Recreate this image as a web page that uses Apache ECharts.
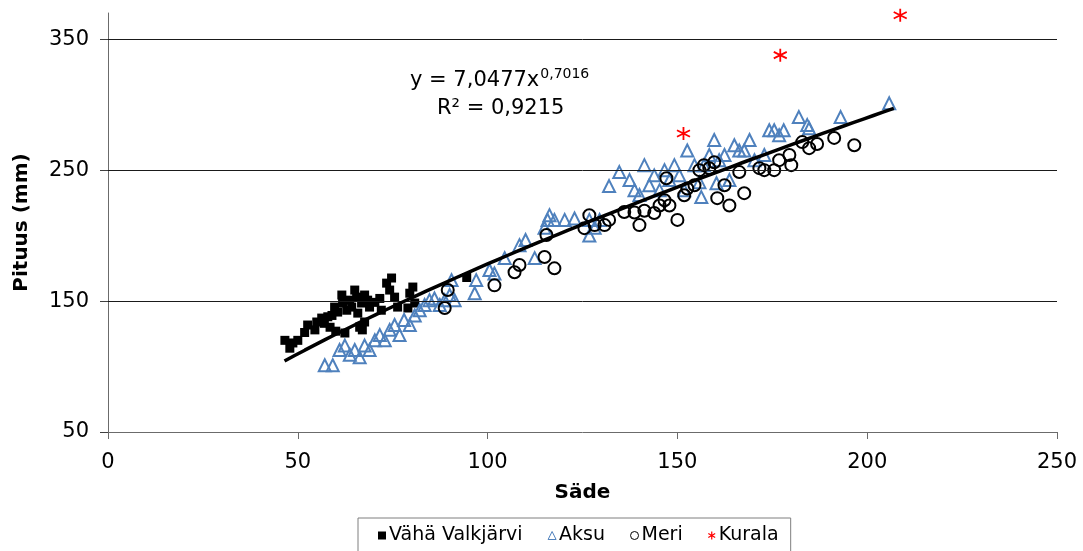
<!DOCTYPE html>
<html>
<head>
<meta charset="utf-8">
<script src="https://cdn.jsdelivr.net/npm/echarts@6/dist/echarts.min.js"></script>
<style>
  html, body { margin: 0; padding: 0; background: #fff; }
  #chart { width: 1083px; height: 551px; }
</style>
</head>
<body>
<div id="chart"></div>
<script>
// Säde / Pituus readings per site
var vahaValkjarvi = [
  [46.6, 120], [47.9, 114], [48.7, 118], [50, 120], [51.8, 126], [52.6, 131.7], [54.5, 128],
  [55, 134], [56.3, 137], [57, 133], [57.9, 138], [59, 139], [59.7, 145.4], [60.5, 141.6],
  [61.6, 154.6], [61.8, 148.5], [62.4, 125.6], [62.9, 143], [63.7, 150.7], [64.2, 145.4],
  [65, 158.4], [65.5, 153], [65.8, 140.8], [66.3, 130], [66.8, 148.5], [67, 128], [67.6, 154.6],
  [67.6, 134], [68.4, 150.7], [68.9, 145.4], [70.3, 149], [71.6, 152], [72, 143], [73.4, 163.7],
  [74.7, 167.6], [74.2, 158.4], [75.5, 153], [76.3, 145.4], [79, 144.7], [79.5, 156],
  [80.3, 160.7], [80.8, 148.5], [58.5, 130], [60, 127], [94.5, 168]
]
var aksu = [
  [57.1, 101], [59.2, 101], [61, 112.6], [62.4, 116], [63.7, 109], [65, 112.6], [66.3, 107],
  [67.6, 116], [68.9, 112.6], [70.3, 120], [71.6, 124], [72.9, 120], [74.2, 128], [75.5, 131.7],
  [76.8, 124], [78, 135.5], [79.5, 131.7], [80.8, 139], [82.1, 143], [83.4, 147], [84.7, 150.7],
  [86, 152], [87.4, 147], [88.7, 150.7], [90, 154.6], [90.5, 166], [91.3, 150.7], [96.6, 156],
  [97, 166], [100.5, 173.7], [101.8, 171], [104.5, 182.8], [108.4, 192.7], [110, 196.6],
  [112.4, 182.8], [115, 206], [116.3, 215.6], [115.8, 212], [117.6, 212], [120.3, 212],
  [122.9, 213], [126.8, 212], [126.8, 200], [128.2, 206], [129.5, 212], [132, 237.8],
  [134.7, 248.5], [137.4, 242.4], [138.7, 234.7], [140, 231], [141.3, 253.8], [142.6, 238.5],
  [143.9, 246], [145.3, 234.7], [146.6, 250], [147.9, 242.4], [149.2, 253.8], [150.5, 246],
  [151.8, 234.7], [152.6, 265], [154.5, 253.8], [155.8, 240.8], [156.3, 229.4], [157, 253.8],
  [158.4, 261.5], [159.7, 273], [160.3, 240], [161, 257.6], [162.4, 261.5], [163.7, 242.4],
  [165, 269], [166.3, 265], [167.6, 265], [169, 273], [170.3, 257.6], [172.9, 261.5],
  [174.2, 280.5], [175.5, 280.5], [176.8, 276.7], [178, 280.5], [182, 290.5], [184.2, 284.4],
  [184.7, 282], [193, 290.5], [205.8, 301]
]
var meri = [
  [88.7, 144.7], [89.5, 158.4], [101.8, 162], [107.1, 172], [108.4, 177.5], [115, 183.6],
  [117.6, 175], [115.5, 200.4], [125.5, 205.7], [126.8, 215.6], [128.2, 208], [130.8, 208],
  [132, 212], [136, 218], [138.7, 217.6], [140, 208], [141.3, 219], [143.9, 217.2], [145.3, 223],
  [146.6, 227], [147.1, 243.8], [147.9, 223], [150, 212], [151.8, 230.8], [152.6, 236],
  [154.5, 238.5], [155.8, 250], [157, 253.8], [158.4, 251.5], [159.7, 256], [160.5, 228.6],
  [162.4, 238.5], [163.7, 223], [166.3, 248.5], [167.6, 232.4], [171.6, 251.5], [172.9, 250],
  [175.5, 250], [176.8, 257.6], [179.5, 261.5], [180, 253.8], [182.9, 271.4], [184.7, 266.8],
  [186.8, 270], [191.3, 274.6], [196.6, 269]
]
var kurala = [[151.6, 278], [177.1, 337.8], [208.7, 368.3]]

// power trendline printed on the chart: y = 7,0477 x^0,7016
var trendA = 7.0477
var trendB = 0.7016
var trendRange = [46.5, 207]
var yTicks = [50, 150, 250, 350]
var gridValues = [150, 250, 350]

var trendData = []
for (var i = 0; i <= 60; i++) {
  var x = trendRange[0] + (trendRange[1] - trendRange[0]) * i / 60
  trendData.push([x, trendA * Math.pow(x, trendB)])
}

var font = 'DejaVu Sans'
var asterisk = 'path://M5,0L5,10M0.7,2.5L9.3,7.5M0.7,7.5L9.3,2.5'
var chart = echarts.init(document.getElementById('chart'), null, { renderer: 'canvas' })

var option = {
  animation: false,
  backgroundColor: '#fff',
  textStyle: { fontFamily: font },
  grid: { left: 108, right: 26, top: 13, bottom: 119 },
  legend: {
    data: [
      { name: 'Vähä Valkjärvi', icon: 'rect', itemStyle: { color: '#000', borderWidth: 0 } },
      { name: 'Aksu', icon: 'triangle', itemStyle: { color: 'rgba(0,0,0,0)', borderColor: '#4f81bd', borderWidth: 1 } },
      { name: 'Meri', icon: 'circle', itemStyle: { color: 'rgba(0,0,0,0)', borderColor: '#000', borderWidth: 1 } },
      { name: 'Kurala', icon: asterisk, itemStyle: { color: 'rgba(0,0,0,0)', borderColor: '#ff0000', borderWidth: 1.2 } }
    ],
    left: 358,
    top: 518,
    padding: [8, 12, 12, 20],
    borderColor: '#7f7f7f',
    borderWidth: 1,
    itemWidth: 8,
    itemHeight: 8,
    itemGap: 25,
    textStyle: { fontFamily: font, fontSize: 19, color: '#000', padding: [0, 0, 0, -2] }
  },
  xAxis: {
    type: 'value',
    min: 0,
    max: 250,
    interval: 50,
    name: 'Säde',
    nameLocation: 'middle',
    nameGap: 51,
    nameTextStyle: { fontFamily: font, fontSize: 20, fontWeight: 'bold', color: '#000' },
    axisLine: { show: true, lineStyle: { color: '#6b6b6b', width: 1 } },
    axisTick: { show: true, length: 7, lineStyle: { color: '#6b6b6b' } },
    axisLabel: { margin: 20, fontSize: 21, color: '#000', fontFamily: font },
    splitLine: { show: false }
  },
  yAxis: {
    type: 'value',
    min: 50,
    max: 370,
    interval: 100,
    name: 'Pituus (mm)',
    nameLocation: 'middle',
    nameGap: 76,
    nameTextStyle: { fontFamily: font, fontSize: 20, fontWeight: 'bold', color: '#000' },
    axisLine: { show: true, lineStyle: { color: '#6b6b6b', width: 1 } },
    axisTick: { show: true, length: 8, customValues: yTicks, lineStyle: { color: '#404040' } },
    axisLabel: { margin: 19, fontSize: 21, color: '#000', fontFamily: font, customValues: yTicks },
    splitLine: { show: false }
  },
  graphic: [
    {
      type: 'text',
      left: 410,
      top: 67,
      style: {
        text: '{a|y = 7,0477x}{s|0,7016}',
        rich: {
          a: { fontFamily: font, fontSize: 21, fill: '#000', verticalAlign: 'bottom', height: 26 },
          s: { fontFamily: font, fontSize: 14, fill: '#000', verticalAlign: 'top', padding: [0, 0, 13, 1] }
        }
      }
    },
    {
      type: 'text',
      left: 437,
      top: 98,
      style: { text: 'R² = 0,9215', fontFamily: font, fontSize: 21, fill: '#000' }
    }
  ],
  series: [
    {
      // horizontal gridlines
      name: 'grid',
      type: 'scatter',
      data: [],
      z: 1,
      silent: true,
      markLine: {
        silent: true,
        symbol: 'none',
        label: { show: false },
        lineStyle: { color: '#1a1a1a', width: 1, type: 'solid' },
        data: gridValues.map(function (v) { return { yAxis: v } })
      }
    },
    {
      name: 'Vähä Valkjärvi',
      type: 'scatter',
      symbol: 'rect',
      symbolSize: 9,
      z: 3,
      itemStyle: { color: '#000', opacity: 1 },
      data: vahaValkjarvi
    },
    {
      name: 'Aksu',
      type: 'scatter',
      symbol: 'triangle',
      symbolSize: 12,
      z: 3,
      itemStyle: { color: 'rgba(255,255,255,0)', borderColor: '#4f81bd', borderWidth: 2, opacity: 1 },
      data: aksu
    },
    {
      name: 'Meri',
      type: 'scatter',
      symbol: 'circle',
      symbolSize: 12,
      z: 4,
      itemStyle: { color: 'rgba(255,255,255,0)', borderColor: '#000', borderWidth: 2, opacity: 1 },
      data: meri
    },
    {
      name: 'Kurala',
      type: 'scatter',
      symbol: asterisk,
      symbolSize: 13,
      z: 4,
      itemStyle: { color: 'rgba(255,0,0,0)', borderColor: '#ff0000', borderWidth: 1.8, opacity: 1 },
      data: kurala
    },
    {
      name: 'trend',
      type: 'line',
      data: trendData,
      showSymbol: false,
      silent: true,
      z: 5,
      lineStyle: { color: '#000', width: 3.5 }
    }
  ]
}
chart.setOption(option)
</script>
</body>
</html>
